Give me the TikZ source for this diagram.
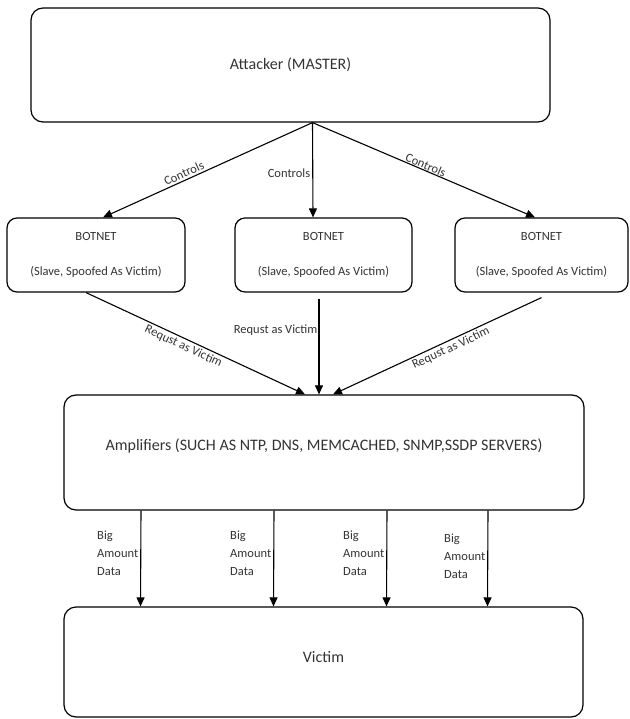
\documentclass[tikz,border=0pt]{standalone}
\usepackage{fontspec}
\setmainfont{Carlito}
\usetikzlibrary{arrows.meta,positioning,calc}

\begin{document}
\begin{tikzpicture}[
    x=1pt, y=-1pt,
    font=\fontsize{16}{19}\selectfont,
    >={Triangle[length=9pt,width=8pt]},
    every node/.style={align=center, text=black!80},
    big/.style={draw, line width=1.2pt, rounded corners=12pt,
      minimum width=520pt, minimum height=115pt, inner sep=0pt},
    bot/.style={draw, line width=1.2pt, rounded corners=10pt,
      minimum width=176pt, minimum height=74pt, inner sep=0pt,
      font=\fontsize{12.5}{15}\selectfont},
    lbl/.style={font=\fontsize{12.5}{15}\selectfont, inner sep=2pt},
    arr/.style={->, line width=1.1pt},
  ]
    \useasboundingbox (0,0) rectangle (629,719);

    % --- master ---
    \node[big, minimum width=519pt, minimum height=114pt] (att) at (290.5,65) {Attacker (MASTER)};
    \coordinate (apex) at ([xshift=22pt]att.south);

    % --- botnets ---
    \node[bot, minimum width=178pt] (bot1) at (96,255) {BOTNET\\[20pt](Slave, Spoofed As Victim)};
    \node[bot, minimum width=177pt] (bot2) at (323.5,255) {BOTNET\\[20pt](Slave, Spoofed As Victim)};
    \node[bot, minimum width=173pt] (bot3) at (541.5,255) {BOTNET\\[20pt](Slave, Spoofed As Victim)};

    % --- amplifiers + victim ---
    \node[big] (amp) at (324,452.5) {};
    \node (amptxt) at ([yshift=7pt]amp.center) {Amplifiers (SUCH AS NTP, DNS, MEMCACHED, SNMP,SSDP SERVERS)};
    \node[big, minimum width=519pt, minimum height=110pt] (vic) at (323.5,662) {};
    \node (victxt) at ([yshift=5pt]vic.center) {Victim};

    % --- master controls botnets ---
    \draw[arr] (apex) -- node[lbl, sloped, above, pos=0.6] {Controls} ([xshift=7pt]bot1.north);
    \draw[arr] (apex) -- node[lbl, left, pos=0.53] {Controls} ([xshift=-10.5pt]bot2.north);
    \draw[arr] (apex) -- node[lbl, sloped, above, inner sep=0.5pt, pos=0.5] {Controls} ([xshift=-6.5pt]bot3.north);

    % --- botnets hit amplifiers ---
    \draw[arr] ([xshift=-10pt]bot1.south) -- node[lbl, sloped, below, pos=0.46] {Requst as Victim} ([xshift=-19pt]amp.north);
    \draw[arr] ([xshift=-4.5pt,yshift=-6pt]bot2.south) -- node[lbl, left, inner sep=1pt, pos=0.33] {Requst as Victim} ([xshift=-5pt]amp.north);
    \draw[arr] ([yshift=-5pt]bot3.south) -- node[lbl, sloped, below, pos=0.45] {Requst as Victim} ([xshift=9pt]amp.north);

    % --- amplifiers flood victim ---
    \foreach \dx/\p [count=\i] in {-183/0.44, -50/0.44, 63/0.44, 164/0.48}
      \draw[arr] ([xshift=\dx pt]amp.south) -- node[lbl, left, align=left, pos=\p,
        font=\fontsize{12.5}{18}\selectfont] (big\i) {Big\\Amount\\Data} ([xshift=\dx pt]vic.north);
\end{tikzpicture}
\end{document}
